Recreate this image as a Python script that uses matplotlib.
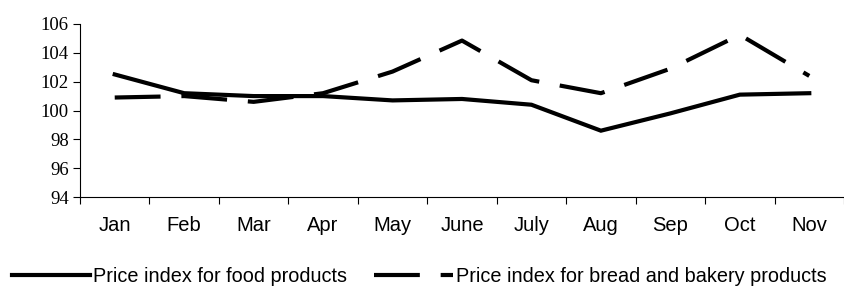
import matplotlib
matplotlib.use("Agg")
import matplotlib.pyplot as plt
import numpy as np

months = ["Jan", "Feb", "Mar", "Apr", "May", "June", "July", "Aug", "Sep", "Oct", "Nov"]
food = [102.5, 101.2, 101.0, 101.0, 100.7, 100.8, 100.4, 98.6, 99.8, 101.1, 101.2]
bread = [100.9, 101.0, 100.6, 101.2, 102.7, 104.85, 102.1, 101.2, 102.9, 105.25, 102.4]
yticks = [94, 96, 98, 100, 102, 104, 106]

fig = plt.figure(figsize=(8.45, 2.86), dpi=100)
ax = fig.add_axes([80/845, 1-197/286, 764/845, (197-24)/286])

x = np.arange(len(months))
l1, = ax.plot(x, food, color="black", lw=3.0, solid_joinstyle="miter",
              label="Price index for food products")
l2, = ax.plot(x, bread, color="black", lw=3.0, dashes=(11, 5),
              label="Price index for bread and bakery products")

ax.set_xlim(-0.5, len(months) - 0.5)
ax.set_ylim(94, 106)
ax.set_yticks(yticks)
ax.set_yticklabels([str(v) for v in yticks], fontfamily="Liberation Serif", fontsize=13.5)
ax.set_xticks(np.arange(-0.5, len(months), 1))
ax.set_xticklabels([])
ax.set_xticks(x, minor=True)
ax.set_xticklabels(months, minor=True, fontfamily="Liberation Sans", fontsize=14.5)
ax.tick_params(axis="x", which="minor", length=0, pad=14)
ax.tick_params(axis="x", which="major", length=5, width=0.8, direction="out")
ax.tick_params(axis="y", length=5, width=0.8, direction="out", pad=3)
for s in ["top", "right"]:
    ax.spines[s].set_visible(False)
for s in ["left", "bottom"]:
    ax.spines[s].set_linewidth(0.8)

fig.legend(handles=[l1, l2], loc="lower left", bbox_to_anchor=(12/845, 0.0),
           ncol=2, frameon=False, prop={"family": "Liberation Sans", "size": 14.3},
           handlelength=3.95, handletextpad=0.15, columnspacing=1.35, borderaxespad=0.0,
           borderpad=0.0)

fig.savefig("out.png", dpi=100)
